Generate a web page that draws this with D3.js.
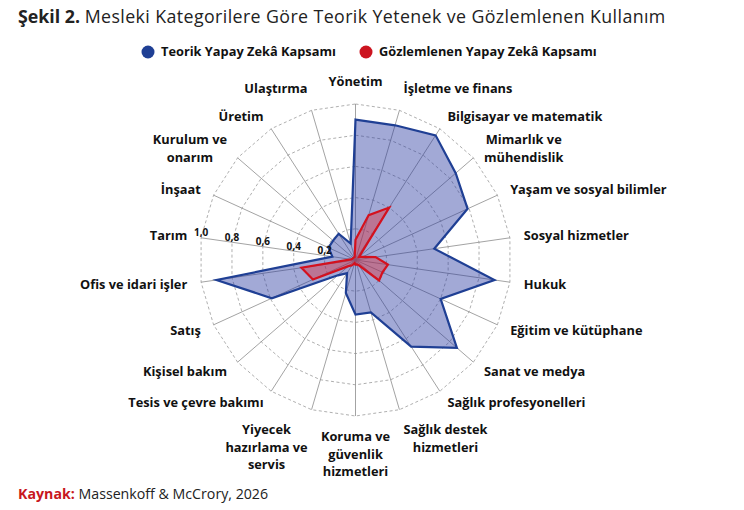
<!DOCTYPE html>
<html>
<head>
<meta charset="utf-8">
<script src="https://cdn.jsdelivr.net/npm/d3@7"></script>
<style>
  body { margin: 0; background: #fff; }
  svg { font-family: "Open Sans", sans-serif; }
</style>
</head>
<body>
<div id="chart"></div>
<script>
// Données
var categories = ["Yönetim", "İşletme ve finans", "Bilgisayar ve matematik", "Mimarlık ve|mühendislik",
    "Yaşam ve sosyal bilimler", "Sosyal hizmetler", "Hukuk", "Eğitim ve kütüphane", "Sanat ve medya",
    "Sağlık profesyonelleri", "Sağlık destek|hizmetleri", "Koruma ve|güvenlik|hizmetleri",
    "Yiyecek|hazırlama ve|servis", "Tesis ve çevre bakımı", "Kişisel bakım", "Satış", "Ofis ve idari işler",
    "Tarım", "İnşaat", "Kurulum ve|onarım", "Üretim", "Ulaştırma"];
var teorik = [0.90, 0.90, 0.95, 0.85, 0.79, 0.51, 0.90, 0.60, 0.86, 0.66, 0.35, 0.35,
    0.22, 0.10, 0.15, 0.59, 0.90, 0.15, 0.19, 0.19, 0.20, 0.11];
var gozlemlenen = [0.13, 0.30, 0.40, 0.03, 0.05, 0.13, 0.21, 0.19, 0.20, 0.04, 0.03, 0.03,
    0.02, 0.04, 0.06, 0.30, 0.35, 0.03, 0.02, 0.02, 0.02, 0.02];
var tickValues = [0.2, 0.4, 0.6, 0.8, 1.0];
var tickLabels = ["0,2", "0,4", "0,6", "0,8", "1,0"];
var seriesNames = ["Teorik Yapay Zekâ Kapsamı", "Gözlemlenen Yapay Zekâ Kapsamı"];

var width = 744, height = 510;
var cx = 355.5, cy = 260, R = 156;
var n = categories.length;

var svg = d3.select("#chart").append("svg")
    .attr("width", width)
    .attr("height", height);

// Titre
var title = svg.append("text")
    .attr("x", 18)
    .attr("y", 23)
    .attr("font-size", "17.8px")
    .attr("fill", "#222");
title.append("tspan").attr("font-weight", 700).text("Şekil 2. ");
title.append("tspan").attr("letter-spacing", "0.4px")
    .text("Mesleki Kategorilere Göre Teorik Yetenek ve Gözlemlenen Kullanım");

// Légende
var legendColors = ["#1f3f94", "#cc1420"];
var legendX = [148, 366];
seriesNames.forEach(function (name, i) {
    svg.append("circle")
        .attr("cx", legendX[i])
        .attr("cy", 52)
        .attr("r", 6.5)
        .attr("fill", legendColors[i]);
    svg.append("text")
        .attr("x", legendX[i] + 13)
        .attr("y", 52)
        .attr("dy", "0.35em")
        .attr("font-size", "12.8px")
        .attr("font-weight", 700)
        .attr("fill", "#111")
        .text(name);
});

// Echelles
var angle = d3.scaleLinear().domain([0, n]).range([0, 2 * Math.PI]);
var r = d3.scaleLinear().domain([0, 1]).range([0, R]);

var g = svg.append("g").attr("transform", "translate(" + cx + "," + cy + ")");

var radial = d3.lineRadial()
    .angle(function (d, i) { return angle(i); })
    .radius(function (d) { return r(d); })
    .curve(d3.curveLinearClosed);

// grille
tickValues.forEach(function (t) {
    g.append("path")
        .attr("d", radial(categories.map(function () { return t; })))
        .attr("fill", "none")
        .attr("stroke", "#9a9a9a")
        .attr("stroke-width", 0.8)
        .attr("stroke-dasharray", "3,2.5");
});

g.selectAll(".spoke")
    .data(categories)
    .enter().append("line")
    .attr("class", "spoke")
    .attr("x1", 0).attr("y1", 0)
    .attr("x2", function (d, i) { return r(1) * Math.sin(angle(i)); })
    .attr("y2", function (d, i) { return -r(1) * Math.cos(angle(i)); })
    .attr("stroke", "#8c8c8c")
    .attr("stroke-width", 0.8);

// séries
g.append("path")
    .attr("d", radial(teorik))
    .attr("fill", "rgba(40, 56, 160, 0.43)")
    .attr("stroke", "#1f3f94")
    .attr("stroke-width", 2.2)
    .attr("stroke-linejoin", "miter");

g.append("path")
    .attr("d", radial(gozlemlenen))
    .attr("fill", "rgba(225, 40, 50, 0.4)")
    .attr("stroke", "#d4111e")
    .attr("stroke-width", 2.2)
    .attr("stroke-linejoin", "miter");

// étiquettes de l'axe radial (le long de "Tarım")
var tickIdx = 17;
g.selectAll(".tick-label")
    .data(tickValues)
    .enter().append("text")
    .attr("class", "tick-label")
    .attr("x", function (d) { return r(d) * Math.sin(angle(tickIdx)); })
    .attr("y", function (d) { return -r(d) * Math.cos(angle(tickIdx)) - 1.5; })
    .attr("text-anchor", "middle")
    .attr("font-size", "10px")
    .attr("font-weight", 700)
    .attr("fill", "#111")
    .text(function (d, i) { return tickLabels[i]; });

// étiquettes des catégories
var labelR = R + 14;
var lineH = 17.5;
categories.forEach(function (c, i) {
    var a = angle(i);
    var s = Math.sin(a), co = Math.cos(a);
    var px = labelR * s, py = -labelR * co;
    var lines = c.split("|");
    var t = g.append("text")
        .attr("font-size", "12.8px")
        .attr("font-weight", 700)
        .attr("fill", "#111")
        .attr("text-anchor", "middle");
    lines.forEach(function (l) {
        t.append("tspan").attr("x", 0).text(l);
    });
    var maxW = 0;
    t.selectAll("tspan").each(function () {
        maxW = Math.max(maxW, this.getComputedTextLength());
    });
    var x;
    if (Math.abs(s) < 0.1) x = px;
    else if (s > 0) x = px + maxW / 2;
    else x = px - maxW / 2;
    var blockH = lines.length * lineH;
    var top;
    if (co > 0.9) top = py - blockH;
    else if (co < -0.9) top = py - 2;
    else top = py - blockH / 2;
    t.selectAll("tspan")
        .attr("x", x)
        .attr("y", function (d, k) { return top + k * lineH + lineH / 2; })
        .attr("dy", "0.35em");
});

// Source
var src = svg.append("text")
    .attr("x", 18)
    .attr("y", 499)
    .attr("font-size", "14.2px")
    .attr("fill", "#222");
src.append("tspan").attr("font-weight", 700).attr("fill", "#c8161d").text("Kaynak: ");
src.append("tspan").text("Massenkoff & McCrory, 2026");
</script>
</body>
</html>
